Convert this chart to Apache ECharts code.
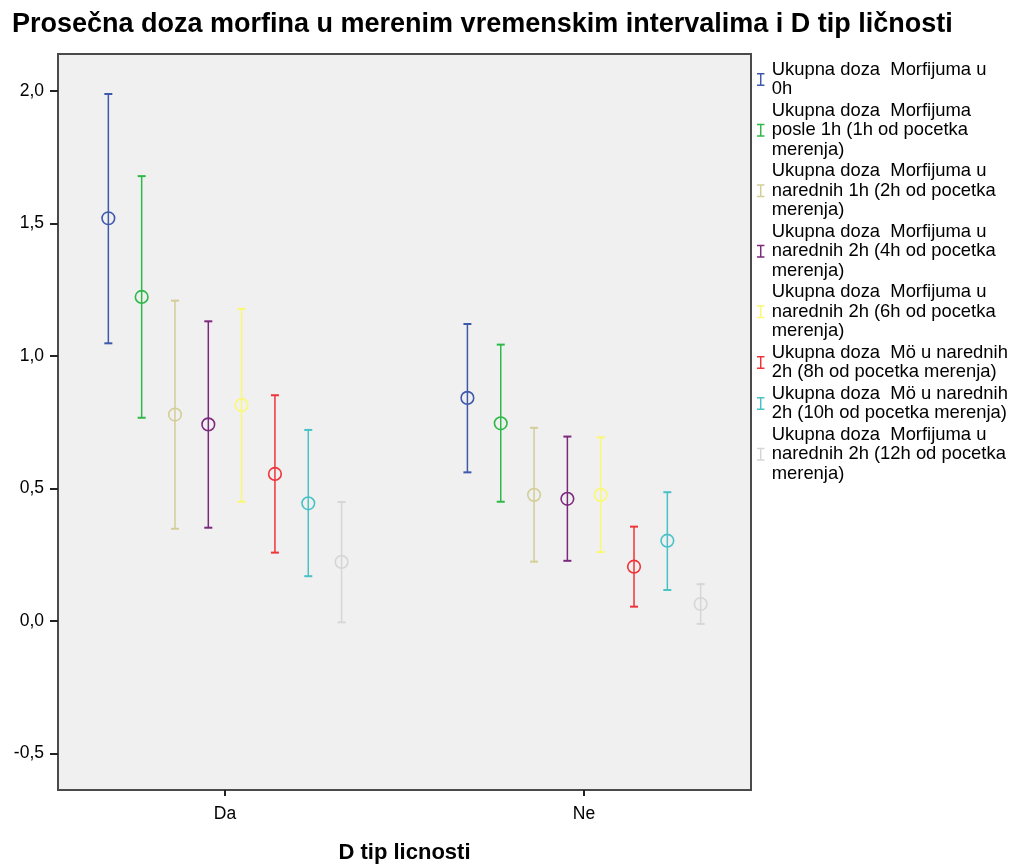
<!DOCTYPE html>
<html>
<head>
<meta charset="utf-8">
<script src="https://cdn.jsdelivr.net/npm/echarts@6/dist/echarts.min.js"></script>
<style>
html,body{margin:0;padding:0;background:#fff;}
#chart{width:1016px;height:867px;}
</style>
</head>
<body>
<div id="chart"></div>
<script>
const categories = ['Da', 'Ne'];
const seriesNames = [
  'Ukupna doza  Morfijuma u 0h',
  'Ukupna doza  Morfijuma posle 1h (1h od pocetka merenja)',
  'Ukupna doza  Morfijuma u narednih 1h (2h od pocetka merenja)',
  'Ukupna doza  Morfijuma u narednih 2h (4h od pocetka merenja)',
  'Ukupna doza  Morfijuma u narednih 2h (6h od pocetka merenja)',
  'Ukupna doza  Mö u narednih 2h (8h od pocetka merenja)',
  'Ukupna doza  Mö u narednih 2h (10h od pocetka merenja)',
  'Ukupna doza  Morfijuma u narednih 2h (12h od pocetka merenja)'
];
const legendLabels = [
  'Ukupna doza  Morfijuma u\n0h',
  'Ukupna doza  Morfijuma\nposle 1h (1h od pocetka\nmerenja)',
  'Ukupna doza  Morfijuma u\nnarednih 1h (2h od pocetka\nmerenja)',
  'Ukupna doza  Morfijuma u\nnarednih 2h (4h od pocetka\nmerenja)',
  'Ukupna doza  Morfijuma u\nnarednih 2h (6h od pocetka\nmerenja)',
  'Ukupna doza  Mö u narednih\n2h (8h od pocetka merenja)',
  'Ukupna doza  Mö u narednih\n2h (10h od pocetka merenja)',
  'Ukupna doza  Morfijuma u\nnarednih 2h (12h od pocetka\nmerenja)'
];
const colors = ['#3e58ac', '#2eb848', '#d3ce97', '#7c287d', '#fbf873', '#ef3338', '#48c2c5', '#d6d6d6'];

// Da group
const meanDa = [1.520, 1.223, 0.779, 0.742, 0.815, 0.555, 0.444, 0.223];
const lowDa  = [1.048, 0.767, 0.348, 0.352, 0.450, 0.258, 0.169, -0.005];
const highDa = [1.989, 1.679, 1.209, 1.131, 1.178, 0.852, 0.721, 0.449];
// Ne group
const meanNe = [0.842, 0.746, 0.476, 0.461, 0.476, 0.205, 0.303, 0.064];
const lowNe  = [0.561, 0.450, 0.224, 0.227, 0.260, 0.054, 0.117, -0.011];
const highNe = [1.121, 1.043, 0.729, 0.696, 0.693, 0.356, 0.486, 0.139];

const yTicks = [-0.5, 0, 0.5, 1.0, 1.5, 2.0];
const xTicks = [0, 1];

const STEP = 0.0928; // spacing between series within a group (x-axis units)

function makeRender(s) {
  return function (params, api) {
    const g = api.value(0), mean = api.value(1), lo = api.value(2), hi = api.value(3);
    const c = api.coord([g, mean]);
    const step = api.size([STEP, 0])[0];
    const x = c[0] + (s - 3.5) * step;
    const yM = c[1];
    const yT = api.coord([g, hi])[1];
    const yB = api.coord([g, lo])[1];
    const col = colors[s];
    const cap = 4;
    return {
      type: 'group',
      children: [
        { type: 'line', shape: { x1: x, y1: yT, x2: x, y2: yB }, style: { stroke: col, lineWidth: 1.5 } },
        { type: 'line', shape: { x1: x - cap, y1: yT, x2: x + cap, y2: yT }, style: { stroke: col, lineWidth: 2 } },
        { type: 'line', shape: { x1: x - cap, y1: yB, x2: x + cap, y2: yB }, style: { stroke: col, lineWidth: 2 } },
        { type: 'circle', shape: { cx: x, cy: yM, r: 6.3 }, style: { stroke: col, lineWidth: 1.6, fill: null } }
      ]
    };
  };
}

const series = seriesNames.map((name, s) => ({
  name: name,
  type: 'custom',
  renderItem: makeRender(s),
  itemStyle: { color: colors[s] },
  encode: { x: 0, y: [1, 2, 3] },
  data: [
    [0, meanDa[s], lowDa[s], highDa[s]],
    [1, meanNe[s], lowNe[s], highNe[s]]
  ],
  z: 3
}));

const chart = echarts.init(document.getElementById('chart'), null, { renderer: 'canvas' });
chart.setOption({
  animation: false,
  backgroundColor: '#ffffff',
  title: {
    text: 'Prosečna doza morfina u merenim vremenskim intervalima i D tip ličnosti',
    left: 7, top: 6,
    textStyle: { fontFamily: 'Liberation Sans', fontWeight: 'bold', fontSize: 27, color: '#000' }
  },
  grid: {
    left: 58, right: 265, top: 54, bottom: 77,
    outerBoundsMode: 'none', containLabel: false,
    show: true, backgroundColor: '#f0f0f0', borderColor: '#4a4a4a', borderWidth: 2
  },
  legend: {
    orient: 'vertical',
    left: 752, top: 55,
    itemGap: 2, itemWidth: 12, itemHeight: 13,
    icon: 'path://M0,0h8v1.6h-8z M3.2,0h1.6v14h-1.6z M0,12.4h8v1.6h-8z',
    data: seriesNames,
    formatter: function (name) { return legendLabels[seriesNames.indexOf(name)]; },
    textStyle: { fontFamily: 'Liberation Sans', fontSize: 18.4, lineHeight: 19.5, color: '#000' },
    selectedMode: false
  },
  xAxis: {
    type: 'value',
    min: -0.465, max: 1.465,
    name: 'D tip licnosti',
    nameLocation: 'middle', nameGap: 52,
    nameTextStyle: { fontFamily: 'Liberation Sans', fontWeight: 'bold', fontSize: 22, color: '#000' },
    axisLine: { show: true, onZero: false, lineStyle: { color: '#4a4a4a', width: 2 } },
    axisTick: { show: true, customValues: xTicks, length: 6, lineStyle: { color: '#222', width: 2 } },
    axisLabel: {
      customValues: xTicks, margin: 15,
      formatter: function (v) { return categories[Math.round(v)]; },
      fontFamily: 'Liberation Sans', fontSize: 17.5, color: '#000'
    },
    splitLine: { show: false }
  },
  yAxis: {
    type: 'value',
    min: -0.638, max: 2.14,
    axisLine: { show: true, onZero: false, lineStyle: { color: '#4a4a4a', width: 2 } },
    axisTick: { show: true, customValues: yTicks, length: 8, lineStyle: { color: '#222', width: 2 } },
    axisLabel: {
      customValues: yTicks, margin: 14,
      formatter: function (v) { return v.toFixed(1).replace('.', ','); },
      fontFamily: 'Liberation Sans', fontSize: 17.5, color: '#000'
    },
    splitLine: { show: false }
  },
  series: series
});
</script>
</body>
</html>
